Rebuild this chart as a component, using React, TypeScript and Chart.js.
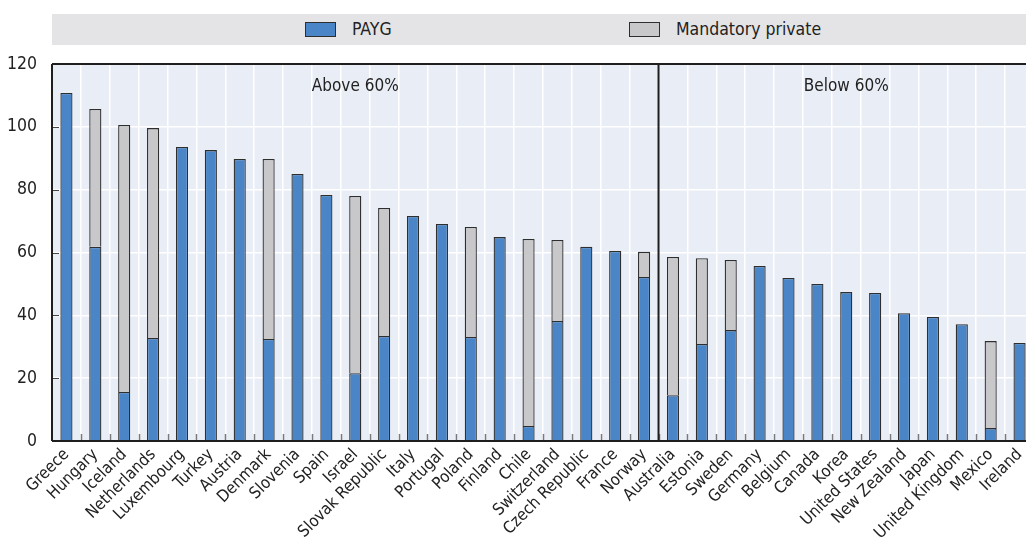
import React, { useEffect, useRef } from "react";
import { Chart, registerables } from "chart.js";

Chart.register(...registerables);

const countries = [
  "Greece", "Hungary", "Iceland", "Netherlands", "Luxembourg", "Turkey", "Austria", "Denmark",
  "Slovenia", "Spain", "Israel", "Slovak Republic", "Italy", "Portugal", "Poland", "Finland",
  "Chile", "Switzerland", "Czech Republic", "France", "Norway", "Australia", "Estonia", "Sweden",
  "Germany", "Belgium", "Canada", "Korea", "United States", "New Zealand", "Japan",
  "United Kingdom", "Mexico", "Ireland",
];

const payg = [
  110.8, 61.8, 15.6, 32.8, 93.6, 92.6, 89.8, 32.5,
  85.0, 78.3, 21.6, 33.4, 71.6, 69.1, 33.1, 64.9,
  4.8, 38.2, 61.8, 60.5, 52.2, 14.6, 30.9, 35.3,
  55.7, 51.9, 50.0, 47.4, 47.1, 40.7, 39.5,
  37.2, 4.1, 31.2,
];

const mandatoryPrivate = [
  0, 43.9, 85.0, 66.8, 0, 0, 0, 57.3,
  0, 0, 56.4, 40.8, 0, 0, 35.0, 0,
  59.5, 25.8, 0, 0, 8.0, 44.0, 27.3, 22.3,
  0, 0, 0, 0, 0, 0, 0,
  0, 27.7, 0,
];

const yTicks = [0, 20, 40, 60, 80, 100, 120];
const groupLabels = ["Above 60%", "Below 60%"];
const groupSplitAfter = "Norway";

const FONT = "'Liberation Sans Narrow', 'DejaVu Sans Condensed', 'Roboto Condensed', 'Liberation Sans', Arial, sans-serif";
const BLUE = "#4a86c7";
const GREY = "#c8c8ca";
const EDGE = "#2e2e2e";

const decorPlugin = {
  id: "decor",
  beforeDraw(chart: any) {
    const { ctx, chartArea } = chart;
    ctx.save();
    ctx.fillStyle = "#e9edf6";
    ctx.fillRect(chartArea.left, chartArea.top, chartArea.right - chartArea.left, chartArea.bottom - chartArea.top);
    ctx.restore();
  },
  afterDatasetsDraw(chart: any) {
    const { ctx, chartArea } = chart;
    const x = chart.scales.x;
    const y = chart.scales.y;
    const n = countries.length;
    const step = (chartArea.right - chartArea.left) / n;
    ctx.save();
    ctx.strokeStyle = "#7a7a7a";
    ctx.lineWidth = 1.5;
    for (let i = 1; i < n; i++) {
      const bx = Math.round(chartArea.left + i * step) + 0.5;
      ctx.beginPath();
      ctx.moveTo(bx, chartArea.bottom);
      ctx.lineTo(bx, chartArea.bottom - 7);
      ctx.stroke();
    }
    ctx.strokeStyle = "#444";
    ctx.lineWidth = 1;
    for (const t of yTicks) {
      const ty = Math.round(y.getPixelForValue(t)) + 0.5;
      ctx.beginPath();
      ctx.moveTo(chartArea.left, ty);
      ctx.lineTo(chartArea.left + 7, ty);
      ctx.stroke();
    }
    ctx.strokeStyle = "#1e1e1e";
    ctx.lineWidth = 2;
    ctx.beginPath();
    ctx.moveTo(chartArea.left, chartArea.top);
    ctx.lineTo(chartArea.right, chartArea.top);
    ctx.moveTo(chartArea.left, chartArea.top);
    ctx.lineTo(chartArea.left, chartArea.bottom);
    ctx.moveTo(chartArea.left, chartArea.bottom);
    ctx.lineTo(chartArea.right, chartArea.bottom);
    const si = countries.indexOf(groupSplitAfter);
    const dx = (x.getPixelForValue(si) + x.getPixelForValue(si + 1)) / 2;
    ctx.moveTo(dx, chartArea.top);
    ctx.lineTo(dx, chartArea.bottom);
    ctx.stroke();
    ctx.fillStyle = "#222";
    ctx.font = "17px " + FONT;
    ctx.textAlign = "center";
    ctx.textBaseline = "middle";
    ctx.fillText(groupLabels[0], (chartArea.left + dx) / 2, chartArea.top + 23);
    ctx.fillText(groupLabels[1], (dx + chartArea.right) / 2, chartArea.top + 23);
    ctx.restore();
  },
};

export default function App() {
  const ref = useRef<HTMLCanvasElement>(null);
  useEffect(() => {
    if (!ref.current) return;
    const chart = new Chart(ref.current, {
      type: "bar",
      data: {
        labels: countries,
        datasets: [
          {
            label: "PAYG",
            data: payg,
            backgroundColor: BLUE,
            borderColor: EDGE,
            borderWidth: 1.3,
            barPercentage: 0.42,
            categoryPercentage: 1,
          },
          {
            label: "Mandatory private",
            data: mandatoryPrivate,
            backgroundColor: GREY,
            borderColor: EDGE,
            borderWidth: 1.3,
            barPercentage: 0.42,
            categoryPercentage: 1,
          },
        ],
      },
      options: {
        responsive: false,
        animation: false,
        layout: { padding: { top: 64, right: 6, left: 0, bottom: 0 } },
        plugins: { legend: { display: false }, tooltip: { enabled: false } },
        scales: {
          x: {
            stacked: true,
            grid: { color: "#ffffff", lineWidth: 1.5, drawTicks: false },
            border: { display: false },
            ticks: {
              autoSkip: false,
              minRotation: 45,
              maxRotation: 45,
              padding: 4,
              color: "#222",
              font: { family: FONT, size: 16.5 },
            },
            afterFit: (s: any) => { s.height = 107; },
          },
          y: {
            stacked: true,
            min: 0,
            max: 120,
            grid: { color: "#ffffff", lineWidth: 1.5, drawTicks: false },
            border: { display: false },
            ticks: {
              stepSize: 20,
              padding: 15,
              color: "#222",
              font: { family: FONT, size: 17.5 },
            },
            afterFit: (s: any) => { s.width = 52; },
          },
        },
      },
      plugins: [decorPlugin],
    });
    return () => chart.destroy();
  }, []);

  const legendText: React.CSSProperties = {
    position: "absolute",
    top: 0,
    height: 31,
    lineHeight: "31px",
    fontFamily: FONT,
    fontSize: 17.5,
    color: "#222",
    whiteSpace: "nowrap",
  };
  const box = (bg: string, left: number): React.CSSProperties => ({
    position: "absolute",
    left,
    top: 8,
    width: 29,
    height: 13,
    background: bg,
    border: "1px solid " + EDGE,
  });

  return (
    <div style={{ position: "fixed", left: 0, top: 0, width: 1026, height: 548, overflow: "hidden", background: "#fff" }}>
      <canvas ref={ref} width={1040} height={548} style={{ position: "absolute", left: 0, top: 0 }} />
      <div style={{ position: "absolute", left: 52, top: 14, width: 974, height: 31, background: "#e4e4e6" }}>
        <div style={box(BLUE, 253)} />
        <div style={{ ...legendText, left: 300 }}>PAYG</div>
        <div style={box(GREY, 577)} />
        <div style={{ ...legendText, left: 624 }}>Mandatory private</div>
      </div>
    </div>
  );
}
